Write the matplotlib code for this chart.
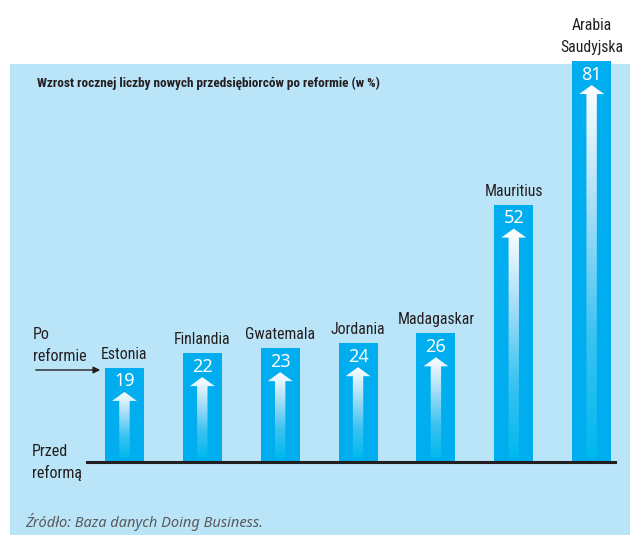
import numpy as np
import matplotlib
matplotlib.use('Agg')
import matplotlib.pyplot as plt
from matplotlib.patches import Rectangle, Polygon, FancyArrowPatch
from matplotlib.colors import LinearSegmentedColormap
from matplotlib import font_manager

countries = ['Estonia', 'Finlandia', 'Gwatemala', 'Jordania', 'Madagaskar', 'Mauritius', 'Arabia\nSaudyjska']
growth = [19, 22, 23, 24, 26, 52, 81]

title = 'Wzrost rocznej liczby nowych przedsiębiorców po reformie (w %)'
source = 'Źródło: Baza danych Doing Business.'

PANEL = '#bae4f8'
BAR = '#00aeef'
DARK = '#231f20'


def is_narrow(f):
    n = f.name.lower()
    return ('narrow' in n or 'condensed' in n or
            str(f.stretch).lower() in ('condensed', 'semi-condensed', 'extra-condensed', '75', '87.5'))


def pick_font(bold):
    cands = [f for f in font_manager.fontManager.ttflist
             if is_narrow(f) and f.style == 'normal' and 'mono' not in f.name.lower()]
    want = 700 if bold else 400
    good = [f for f in cands if abs(int(f.weight) - want) <= 100] if cands else []
    order = ['roboto', 'liberation', 'noto sans', 'open sans', 'dejavu sans']
    for key in order:
        for f in good:
            if f.name.lower().startswith(key):
                return font_manager.FontProperties(fname=f.fname)
    if good:
        return font_manager.FontProperties(fname=good[0].fname)
    return font_manager.FontProperties(family='DejaVu Sans', weight='bold' if bold else 'normal')


reg_fp = pick_font(False)
bold_fp = pick_font(True)


def fp(base, size):
    p = base.copy()
    p.set_size(size)
    return p


W, H = 630, 535
fig = plt.figure(figsize=(W / 100, H / 100), dpi=100)
fig.patch.set_facecolor('white')

# light blue panel
fig.patches.append(Rectangle((10 / W, 0), 1, (H - 64) / H, transform=fig.transFigure,
                             facecolor=PANEL, edgecolor='none', zorder=-5))

px_per_unit = 4.95
ymax = 85
ax = fig.add_axes([87 / W, 73 / H, 528 / W, ymax * px_per_unit / H])
ax.set_facecolor('none')
ax.axis('off')

x = np.arange(len(countries))
ax.bar(x, growth, width=0.5, color=BAR, zorder=2, clip_on=False)
ax.axhline(0, color=DARK, lw=2.2, zorder=4, clip_on=False)

ux = 77.9   # px per x unit
uy = px_per_unit
cmap = LinearSegmentedColormap.from_list('arrow', ['#00b8ee', '#3cc3f1', '#a6def7', '#ffffff'])
grad = np.linspace(0, 1, 256).reshape(-1, 1)

for xi, v in zip(x, growth):
    tip = v - 24 / uy
    head_base = tip - 9 / uy
    sw = 5.2 / ux
    hw = 12.5 / ux
    bottom = 0.8
    pts = [(xi - sw, bottom), (xi - sw, head_base), (xi - hw, head_base), (xi, tip),
           (xi + hw, head_base), (xi + sw, head_base), (xi + sw, bottom)]
    arrow = Polygon(pts, closed=True, facecolor='none', edgecolor='none', transform=ax.transData)
    ax.add_patch(arrow)
    im = ax.imshow(grad, extent=[xi - hw, xi + hw, bottom, tip], origin='lower',
                   cmap=cmap, aspect='auto', zorder=3, interpolation='bilinear')
    im.set_clip_path(arrow)

    ax.text(xi, v - 13.5 / uy, str(v), ha='center', va='center', color='white',
            fontsize=13, family=['Noto Sans', 'DejaVu Sans'], zorder=5)

for xi, v, name in zip(x, growth, countries):
    ax.text(xi, v + 9 / uy, name, ha='center', va='baseline', color=DARK,
            fontproperties=fp(reg_fp, 11.3), linespacing=1.55, zorder=5)

ax.set_xlim(-0.481, 6.30)
ax.set_ylim(0, ymax)

fig.text(37 / W, 1 - 83 / H, title, ha='left', va='center', color=DARK,
         fontproperties=fp(bold_fp, 9.5))

for label, xp, yp in [('Po', 33, 339), ('reformie', 33, 361), ('Przed', 32, 456), ('reformą', 32, 478)]:
    fig.text(xp / W, 1 - yp / H, label, ha='left', va='baseline', color=DARK,
             fontproperties=fp(reg_fp, 11.5))

fig.patches.append(FancyArrowPatch((33 / W, 1 - 370 / H), (103 / W, 1 - 370 / H),
                                   transform=fig.transFigure, arrowstyle='-|>',
                                   mutation_scale=10, lw=1.0, color=DARK, zorder=5))

fig.text(25 / W, 1 - 527 / H, source, ha='left', va='baseline', fontsize=10.5,
         style='italic', color='#5a5a5a', family=['Noto Sans', 'DejaVu Sans'])

fig.savefig('out.png', dpi=100)
